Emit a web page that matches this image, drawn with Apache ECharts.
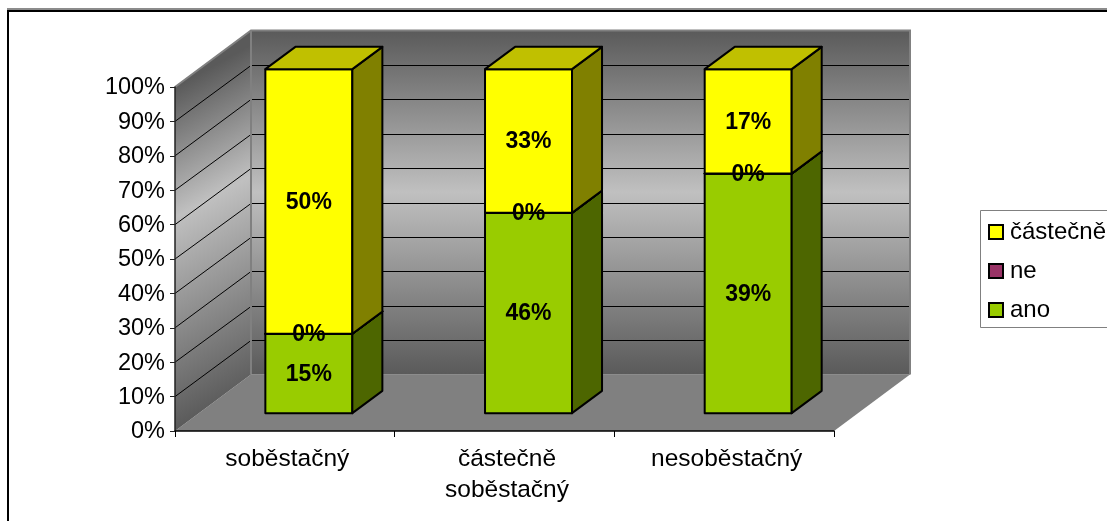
<!DOCTYPE html>
<html>
<head>
<meta charset="utf-8">
<style>html,body{margin:0;padding:0;background:#fff}#chart{width:1107px;height:521px}</style>
<script src="https://cdn.jsdelivr.net/npm/echarts@6/dist/echarts.min.js"></script>
</head>
<body>
<div id="chart"></div>
<script>
// Shares of self-sufficiency answers, drawn as a 100 % stacked pseudo-3D column chart.
const categories = ['soběstačný', 'částečně\nsoběstačný', 'nesoběstačný'];
const ano = [15, 46, 39];
const ne = [0, 0, 0];
const castecne = [50, 33, 17];
const yTicks = [0, 0.1, 0.2, 0.3, 0.4, 0.5, 0.6, 0.7, 0.8, 0.9, 1];

const FONT = '"Liberation Sans", Arial, sans-serif';
const WALL_DX = 76, WALL_DY = -56.5;     // depth of the whole plot box
const BAR_NEAR = 0.316, BAR_FAR = 0.711; // bar extent inside that depth
const BAR_SHARE = 0.396;                 // bar width relative to a category slot

// Turn raw answers into start/end fractions of each column's total.
function stacked(own, below) {
  return own.map((v, i) => {
    const total = ano[i] + ne[i] + castecne[i];
    const start = below.reduce((s, arr) => s + arr[i], 0) / total;
    return [i, start, start + v / total, v];
  });
}

function poly(points, fill, stroke, lineWidth) {
  return { type: 'polygon', shape: { points }, style: { fill, stroke: stroke || 'none', lineWidth: lineWidth || 0, lineJoin: 'round' } };
}
function line(points, stroke, lineWidth) {
  return { type: 'polyline', shape: { points }, style: { fill: 'none', stroke, lineWidth } };
}
function wallStops(mid) {
  return [
    { offset: 0, color: '#5a5a5a' },
    { offset: mid, color: '#c0c0c0' },
    { offset: 1, color: '#5a5a5a' }
  ];
}

// Back wall, side wall, floor and gridlines of the plot box.
function renderWalls(params, api) {
  const cs = params.coordSys;
  const x0 = cs.x, x1 = cs.x + cs.width;
  const yBot = api.coord([0, 0])[1], yTop = api.coord([0, 1])[1];
  const children = [];
  const backFill = new echarts.graphic.LinearGradient(0, 0, 0, 1, wallStops(0.47));
  // side wall shading is tilted, a little flatter than the gridlines
  const h = yBot - yTop, tiltX = 76, tiltY = -42, len = Math.hypot(tiltX, tiltY);
  const nx = -tiltY / len, ny = tiltX / len, d = h * ny;
  const sideFill = new echarts.graphic.LinearGradient(x0, yTop, x0 + nx * d, yTop + ny * d, wallStops(0.38), true);

  children.push(poly([[x0, yBot], [x1, yBot], [x1 + WALL_DX, yBot + WALL_DY], [x0 + WALL_DX, yBot + WALL_DY]], '#808080'));
  children.push(poly([[x0, yTop], [x0 + WALL_DX, yTop + WALL_DY], [x0 + WALL_DX, yBot + WALL_DY], [x0, yBot]], sideFill));
  children.push(poly([[x0 + WALL_DX, yTop + WALL_DY], [x1 + WALL_DX, yTop + WALL_DY], [x1 + WALL_DX, yBot + WALL_DY], [x0 + WALL_DX, yBot + WALL_DY]], backFill));

  yTicks.forEach(t => {
    if (t === 0 || t === 1) return;
    const y = api.coord([0, t])[1];
    const yb = Math.round(y + WALL_DY) + 0.5;
    children.push(line([[x0, y], [x0 + WALL_DX, yb]], '#000', 1));
    children.push(line([[x0 + WALL_DX, yb], [x1 + WALL_DX, yb]], '#000', 1));
  });
  const bx = x0 + WALL_DX, by = yTop + WALL_DY, bb = yBot + WALL_DY;
  children.push(line([[x0, yTop], [bx, by], [x1 + WALL_DX, by], [x1 + WALL_DX, bb]], '#808080', 2));
  children.push(line([[bx, by], [bx, bb]], '#808080', 2));
  children.push(line([[bx, bb], [x1 + WALL_DX, bb]], '#8c8c8c', 1));
  return { type: 'group', children };
}

// One stacked segment: front face, right side and top face plus its value label.
function segmentRenderer(front, side, top) {
  return function (params, api) {
    const slot = api.size([1, 0])[0];
    const w = slot * BAR_SHARE;
    const base = api.coord([api.value(0), api.value(1)]);
    const head = api.coord([api.value(0), api.value(2)]);
    const nx = WALL_DX * BAR_NEAR, ny = WALL_DY * BAR_NEAR;
    const fx = WALL_DX * (BAR_FAR - BAR_NEAR), fy = WALL_DY * (BAR_FAR - BAR_NEAR);
    const l = base[0] + nx - w / 2, r = l + w;
    const yb = base[1] + ny, yt = head[1] + ny;
    return {
      type: 'group',
      children: [
        poly([[l, yb], [r, yb], [r, yt], [l, yt]], front, '#000', 2),
        poly([[r, yb], [r + fx, yb + fy], [r + fx, yt + fy], [r, yt]], side, '#000', 2),
        poly([[l, yt], [r, yt], [r + fx, yt + fy], [l + fx, yt + fy]], top, '#000', 2),
        {
          type: 'text', z2: 100,
          style: {
            text: api.value(3) + '%', x: (l + r) / 2, y: (yb + yt) / 2 + 1,
            align: 'center', verticalAlign: 'middle',
            font: 'bold 23px ' + FONT, fill: '#000'
          }
        }
      ]
    };
  };
}

const chart = echarts.init(document.getElementById('chart'));
chart.setOption({
  animation: false,
  backgroundColor: '#fff',
  grid: { left: 175, top: 87, width: 659, height: 344, containLabel: false },
  xAxis: {
    type: 'category', data: categories, z: 10,
    axisLine: { lineStyle: { color: '#000', width: 1.5 } },
    axisTick: { show: true, length: 6, alignWithLabel: false, lineStyle: { color: '#000' } },
    axisLabel: { color: '#000', fontFamily: FONT, fontSize: 24.5, margin: 13, lineHeight: 31, interval: 0, padding: [0, 0, 0, 5] }
  },
  yAxis: {
    type: 'value', min: 0, max: 1, interval: 0.1, z: 10,
    axisLine: { show: true, lineStyle: { color: '#222', width: 1.5 } },
    axisTick: { show: true, length: 5, lineStyle: { color: '#222' } },
    splitLine: { show: false },
    axisLabel: {
      color: '#000', fontFamily: FONT, fontSize: 23.5, margin: 10,
      verticalAlign: 'top', lineHeight: 2,
      formatter: v => Math.round(v * 100) + '%'
    }
  },
  legend: {
    orient: 'vertical', left: 980, top: 210, padding: [10, 0, 0, 8],
    data: ['částečně', 'ne', 'ano'],
    icon: 'rect', itemWidth: 14, itemHeight: 14, itemGap: 15,
    itemStyle: { borderColor: '#000', borderWidth: 2 },
    textStyle: { color: '#000', fontFamily: FONT, fontSize: 24, lineHeight: 18, padding: [0, 0, 0, 2] },
    selectedMode: false, z: 20
  },
  graphic: [
    // outer frame of the chart area
    { type: 'rect', silent: true, z: -1, shape: { x: 7, y: 8, width: 1100, height: 2 }, style: { fill: '#8c8c8c' } },
    { type: 'rect', silent: true, z: -1, shape: { x: 7, y: 10, width: 1100, height: 2 }, style: { fill: '#000' } },
    { type: 'rect', silent: true, z: -1, shape: { x: 7, y: 10, width: 2, height: 511 }, style: { fill: '#000' } },
    // legend box, running past the right edge of the page
    { type: 'rect', silent: true, z: -1, shape: { x: 980.5, y: 210.5, width: 200, height: 117 }, style: { fill: '#fff', stroke: '#808080', lineWidth: 1 } }
  ],
  series: [
    { name: 'walls', type: 'custom', silent: true, z: 1, renderItem: renderWalls, data: [[0, 0]], encode: { x: 0, y: 1 } },
    { name: 'ano', type: 'custom', z: 2, itemStyle: { color: '#99cc00' }, renderItem: segmentRenderer('#99cc00', '#4d6600', '#739900'), data: stacked(ano, []), encode: { x: 0, y: [1, 2] } },
    { name: 'ne', type: 'custom', z: 2, itemStyle: { color: '#993366' }, renderItem: segmentRenderer('#993366', '#4d1a33', '#732650'), data: stacked(ne, [ano]), encode: { x: 0, y: [1, 2] } },
    { name: 'částečně', type: 'custom', z: 2, itemStyle: { color: '#ffff00' }, renderItem: segmentRenderer('#ffff00', '#808000', '#c0c000'), data: stacked(castecne, [ano, ne]), encode: { x: 0, y: [1, 2] } }
  ]
});
</script>
</body>
</html>
